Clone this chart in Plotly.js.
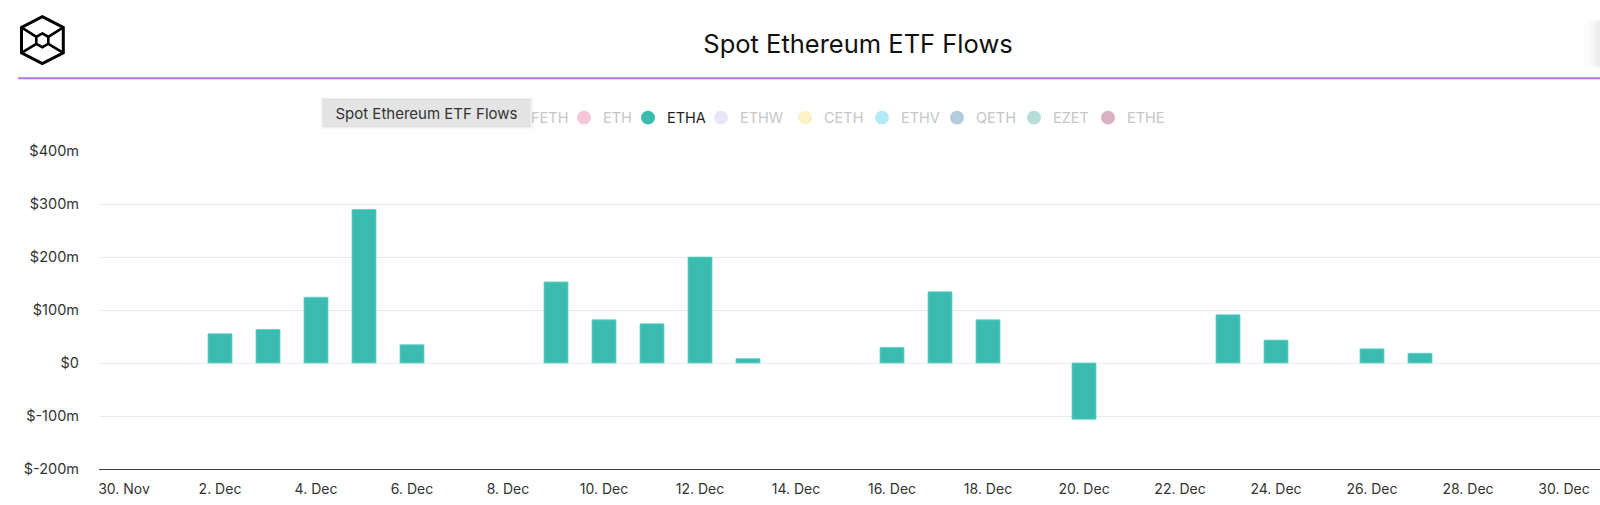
<!DOCTYPE html>
<html>
<head>
<meta charset="utf-8">
<script src="https://cdn.plot.ly/plotly-3.0.1.min.js"></script>
<style>
  html, body { margin: 0; padding: 0; background: #ffffff; }
  #chart { width: 1600px; height: 505px; }
</style>
</head>
<body>
<div id="chart"></div>
<script>
// Daily net flows of the ETHA fund, in millions of US dollars
const flowDates = ['2024-12-02', '2024-12-03', '2024-12-04', '2024-12-05', '2024-12-06',
                   '2024-12-09', '2024-12-10', '2024-12-11', '2024-12-12', '2024-12-13',
                   '2024-12-16', '2024-12-17', '2024-12-18', '2024-12-20',
                   '2024-12-23', '2024-12-24', '2024-12-26', '2024-12-27'];
const ethaFlows = [55.2, 63.3, 124.1, 289.7, 34.5,
                   153.0, 81.5, 74.0, 200.0, 8.2,
                   29.5, 134.2, 81.5, -106.2,
                   90.9, 43.2, 26.7, 18.4];

// Fund tickers shown in the legend row, their colours, and which one is switched on
const fundNames  = ['FETH', 'ETH', 'ETHA', 'ETHW', 'CETH', 'ETHV', 'QETH', 'EZET', 'ETHE'];
const fundColors = ['#cfe7c4', '#f8c6d4', '#3bbbb0', '#e7e5f6', '#fdf2c6', '#b4eaf7', '#b2cbdd', '#b6ddd8', '#d8b2c3'];
const activeFund = 'ETHA';

// Value axis ticks
const yTickVals = [-200, -100, 0, 100, 200, 300, 400];
const yTickText = ['$-200m', '$-100m', '$0', '$100m', '$200m', '$300m', '$400m'];

const chartTitle = 'Spot Ethereum ETF Flows';

// ---- geometry helpers (page pixels -> paper coordinates) ----
const W = 1600, H = 505;
const M = { l: 99, r: 0, t: 150.5, b: 35.5 };
const PW = W - M.l - M.r, PH = H - M.t - M.b;
const px = x => (x - M.l) / PW;
const py = y => (H - M.b - y) / PH;
const polyPath = pts => 'M' + pts.map(p => px(p[0]) + ',' + py(p[1])).join(' L') + ' Z';

const FONT = 'Inter, "Noto Sans", sans-serif';
const shapes = [];
const annotations = [];

// Header rule under the title
shapes.push({ type: 'line', xref: 'paper', yref: 'paper',
  x0: px(18), x1: px(1600), y0: py(77.5), y1: py(77.5),
  line: { color: '#bf6ee7', width: 2 } });

// Soft shadow of a panel edge at the top right
[[1584, 22, 64, 0.012], [1589, 20, 66, 0.016], [1593, 19, 67, 0.02], [1596, 18, 68, 0.024]].forEach(s => {
  shapes.push({ type: 'rect', xref: 'paper', yref: 'paper',
    x0: px(s[0]), x1: px(1600), y0: py(s[2]), y1: py(s[1]),
    fillcolor: 'rgba(0,0,0,' + s[3] + ')', line: { width: 0 } });
});

// Logo: hexagonal cube outline
const hex = [[42.3, 15.7], [63.3, 26.5], [63.3, 52], [42.3, 62.7], [21.5, 52], [21.5, 26.5]];
shapes.push({ type: 'path', xref: 'paper', yref: 'paper', path: polyPath(hex),
  line: { color: '#000', width: 3 } });
const inner = [[42.3, 32.6], [48.3, 36.0], [48.3, 43.0], [42.3, 46.4], [36.3, 43.0], [36.3, 36.0]];
shapes.push({ type: 'path', xref: 'paper', yref: 'paper', path: polyPath(inner),
  line: { color: '#000', width: 2.6 } });
[[hex[5], inner[5]], [hex[1], inner[1]], [hex[4], inner[4]], [hex[2], inner[2]]].forEach(seg => {
  shapes.push({ type: 'line', xref: 'paper', yref: 'paper',
    x0: px(seg[0][0]), y0: py(seg[0][1]), x1: px(seg[1][0]), y1: py(seg[1][1]),
    line: { color: '#000', width: 2.6 } });
});

// Legend row
const legendDotX = [512, 584, 648, 721, 805, 882, 957, 1034, 1108];
const legendY = 117;
fundNames.forEach((name, i) => {
  const cx = legendDotX[i], r = 7;
  shapes.push({ type: 'circle', xref: 'paper', yref: 'paper',
    x0: px(cx - r), x1: px(cx + r), y0: py(legendY + r), y1: py(legendY - r),
    fillcolor: fundColors[i], line: { width: 0 } });
  annotations.push({ xref: 'paper', yref: 'paper', x: px(cx + 17), y: py(legendY),
    xanchor: 'left', yanchor: 'middle', showarrow: false, text: name,
    font: { family: FONT, size: 14.5, color: name === activeFund ? '#222' : '#c6c6c6' } });
});

// Hover caption box over the legend, with a soft shadow behind it
shapes.push({ type: 'rect', xref: 'paper', yref: 'paper',
  x0: px(321), x1: px(533), y0: py(128), y1: py(97),
  fillcolor: 'rgba(0,0,0,0.06)', line: { width: 0 } });
annotations.push({ xref: 'paper', yref: 'paper', x: px(323), y: py(98),
  xanchor: 'left', yanchor: 'top', showarrow: false, text: chartTitle,
  width: 200, height: 21, borderpad: 3, align: 'center',
  bgcolor: '#e4e4e4', bordercolor: '#d8d8d8', borderwidth: 0.5,
  font: { family: FONT, size: 15, color: '#333' } });

const trace = {
  type: 'bar',
  x: flowDates,
  y: ethaFlows,
  width: 0.5 * 86400000,
  marker: { color: '#3cbbb1', line: { color: '#63d3ca', width: 0.8 } },
  hoverinfo: 'skip'
};

const layout = {
  width: W, height: H,
  margin: M,
  paper_bgcolor: '#ffffff', plot_bgcolor: '#ffffff',
  showlegend: false,
  hovermode: false,
  bargap: 0,
  title: { text: chartTitle, xref: 'container', yref: 'container',
    x: 858 / W, y: 1 - 44 / H, xanchor: 'center', yanchor: 'middle',
    font: { family: FONT, size: 25.5, color: '#111' } },
  xaxis: {
    type: 'date',
    range: ['2024-11-29 11:30', '2024-12-30 18:00'],
    tick0: '2024-11-30', dtick: 2 * 86400000,
    tickformat: '%-d. %b',
    ticks: '', showgrid: false, zeroline: false,
    showline: true, linecolor: '#3a3a3a', linewidth: 1.2,
    ticklabelstandoff: 7,
    tickfont: { family: FONT, size: 14, color: '#333' },
    fixedrange: true
  },
  yaxis: {
    range: [-200, 400],
    tickmode: 'array', tickvals: yTickVals, ticktext: yTickText,
    ticks: '', showgrid: true, gridcolor: '#ebebeb', gridwidth: 1,
    zeroline: true, zerolinecolor: '#ebebeb', zerolinewidth: 1,
    showline: false,
    ticklabelstandoff: 19,
    tickfont: { family: FONT, size: 14.5, color: '#333' },
    fixedrange: true
  },
  shapes: shapes,
  annotations: annotations
};

Plotly.newPlot('chart', [trace], layout, { staticPlot: true, displayModeBar: false });
</script>
</body>
</html>
